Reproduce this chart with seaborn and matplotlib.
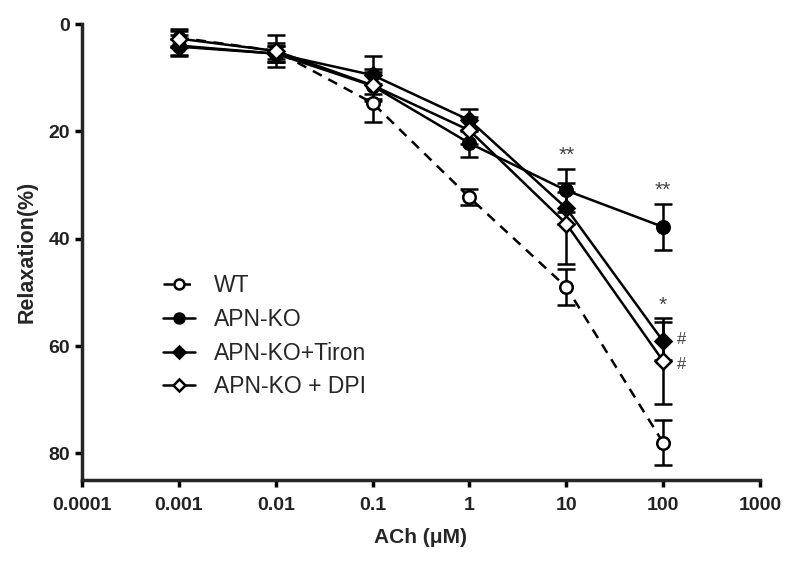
import numpy as np
import pandas as pd
import matplotlib
matplotlib.use("Agg")
import matplotlib.pyplot as plt
import seaborn as sns

# ── data ─────────────────────────────────────────────────────────────────
ach = [0.001, 0.01, 0.1, 1, 10, 100]

wt_mean = [2.5, 5.0, 14.7, 32.3, 49.0, 78.0]
wt_sem = [1.5, 1.5, 3.5, 1.5, 3.3, 4.2]

ko_mean = [4.0, 5.5, 11.5, 22.2, 31.0, 37.8]
ko_sem = [2.0, 1.5, 2.5, 2.5, 4.0, 4.3]

tiron_mean = [4.2, 5.5, 9.5, 17.9, 34.3, 59.1]
tiron_sem = [1.5, 1.5, 3.5, 2.0, 3.0, 3.5]

dpi_mean = [2.7, 5.0, 11.4, 19.8, 37.2, 62.8]
dpi_sem = [1.5, 3.0, 3.0, 2.5, 7.5, 8.0]

labels = ["WT", "APN-KO", "APN-KO+Tiron", "APN-KO + DPI"]
tick_vals = [1e-4, 1e-3, 1e-2, 1e-1, 1, 10, 100, 1000]
tick_text = ["0.0001", "0.001", "0.01", "0.1", "1", "10", "100", "1000"]


def main():
    sns.set_theme(style="ticks")
    plt.rcParams["font.family"] = ["Liberation Sans", "DejaVu Sans"]

    fig = plt.figure(figsize=(8, 5.61), dpi=100)
    ax = fig.add_axes([0.1025, 0.144, 0.8475, 0.813])

    series = [
        (wt_mean, wt_sem, labels[0], "o", "white", (0, (4, 3))),
        (ko_mean, ko_sem, labels[1], "o", "black", "-"),
        (tiron_mean, tiron_sem, labels[2], "D", "black", "-"),
        (dpi_mean, dpi_sem, labels[3], "D", "white", "-"),
    ]

    for mean, sem, lab, mk, fc, ls in series:
        df = pd.DataFrame({"ach": ach, "relax": mean})
        ax.errorbar(df["ach"], df["relax"], yerr=sem, fmt="none",
                    ecolor="black", elinewidth=1.8, capsize=6.5, capthick=1.8,
                    zorder=2)
        sns.lineplot(data=df, x="ach", y="relax", ax=ax, color="black",
                     linewidth=1.8, linestyle=ls, marker=mk,
                     markersize=9 if mk == "o" else 8,
                     markerfacecolor=fc, markeredgecolor="black",
                     markeredgewidth=1.8, label=lab, zorder=3)

    ax.set_xscale("log")
    ax.set_xlim(1e-4, 1e3)
    ax.set_ylim(85, 0)
    ax.set_xticks(tick_vals)
    ax.set_xticklabels(tick_text)
    ax.xaxis.set_minor_locator(matplotlib.ticker.NullLocator())
    ax.set_yticks([0, 20, 40, 60, 80])

    for s in ["top", "right"]:
        ax.spines[s].set_visible(False)
    for s in ["left", "bottom"]:
        ax.spines[s].set_linewidth(2.5)
    ax.tick_params(width=2.5, length=5, labelsize=14, colors="black")
    ax.tick_params(axis="x", pad=7)
    for t in ax.get_xticklabels() + ax.get_yticklabels():
        t.set_fontweight("bold")
        t.set_color("#222222")

    ax.set_xlabel("ACh (\u03bcM)", fontsize=15, fontweight="bold", labelpad=10)
    ax.set_ylabel("Relaxation(%)", fontsize=15.5, fontweight="bold", labelpad=8)

    # significance marks
    ax.text(10, 24.5, "**", ha="center", va="center", fontsize=15, color="#444444")
    ax.text(100, 31.0, "**", ha="center", va="center", fontsize=15, color="#444444")
    ax.text(100, 52.5, "*", ha="center", va="center", fontsize=15, color="#444444")
    ax.text(155, 58.8, "#", ha="center", va="center", fontsize=12, color="#444444")
    ax.text(155, 63.4, "#", ha="center", va="center", fontsize=12, color="#444444")

    ax.legend(loc="upper left", bbox_to_anchor=(0.12, 0.452), frameon=False,
              fontsize=16.5, handlelength=1.4, labelspacing=0.47,
              handletextpad=0.8, borderpad=0, borderaxespad=0,
              markerscale=0.8)

    fig.savefig("out.png", dpi=100)
    plt.close(fig)


if __name__ == "__main__":
    main()
